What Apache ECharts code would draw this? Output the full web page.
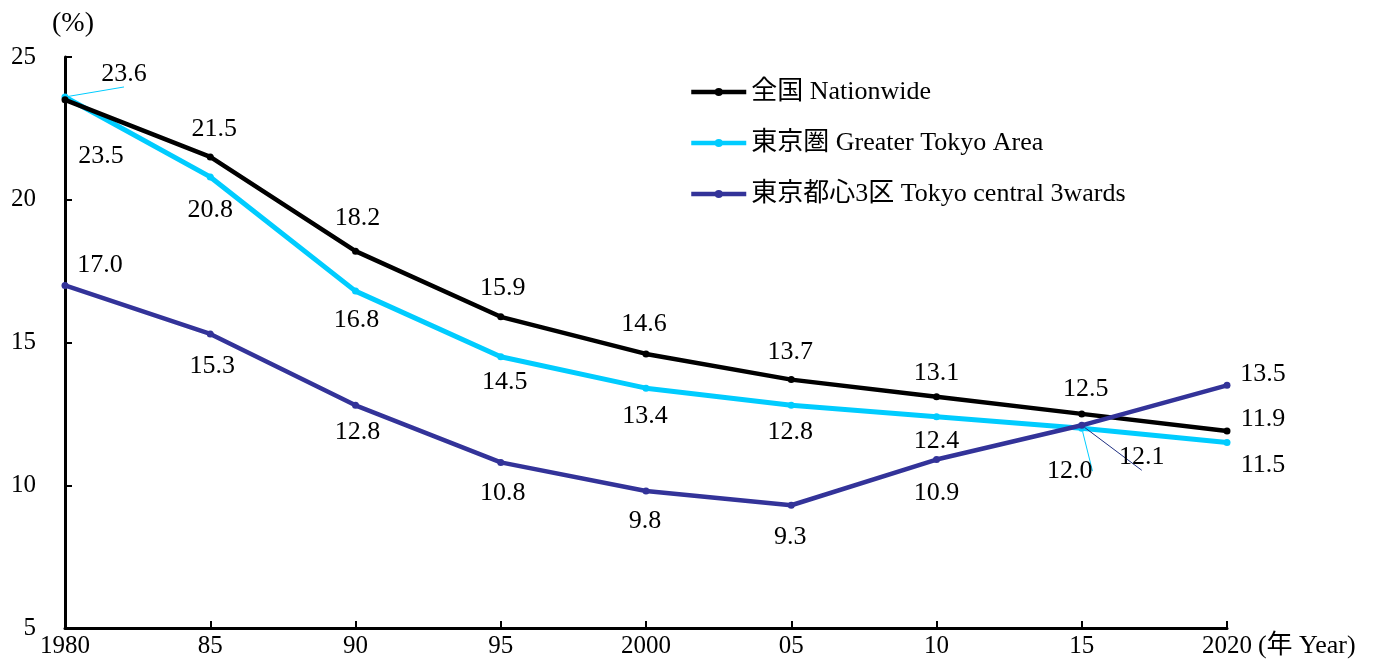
<!DOCTYPE html>
<html>
<head>
<meta charset="utf-8">
<script src="https://cdn.jsdelivr.net/npm/echarts@6/dist/echarts.min.js"></script>
<style>
html,body{margin:0;padding:0;background:#fff;}
#chart{width:1373px;height:663px;}
</style>
</head>
<body>
<div id="chart"></div>
<script>
const categories = ['1980','85','90','95','2000','05','10','15','2020'];
const nationwide = [23.5, 21.5, 18.2, 15.9, 14.6, 13.7, 13.1, 12.5, 11.9];
const greaterTokyo = [23.6, 20.8, 16.8, 14.5, 13.4, 12.8, 12.4, 12.0, 11.5];
const central3 = [17.0, 15.3, 12.8, 10.8, 9.8, 9.3, 10.9, 12.1, 13.5];
const seriesNames = ['全国 Nationwide', '東京圏 Greater Tokyo Area', '東京都心3区 Tokyo central 3wards'];
const yTicks = [5, 10, 15, 20, 25];

// label placement (offsets from each point), kept apart from data
const offN = [[36,56],[4,-28],[2,-33],[2,-29],[-2,-30],[-1,-27],[0,-24],[4,-25],[36,-12]];
const offG = [[59,-23],[0,33],[1,29],[4,25],[-1,28],[-1,27],[0,24],[-12,43],[36,23]];
const offC = [[35,-20],[2,32],[2,27],[2,31],[-1,30],[-1,32],[0,34],[60,32],[36,-11]];
const leaderG = [0, 7];
const leaderC = [7];

const FONT = '"Liberation Serif", "Noto Sans CJK JP", serif';

function build(values, offs, color, leaders) {
  return values.map((v, i) => {
    const item = {
      value: v,
      label: { show: true, position: 'inside', offset: offs[i], formatter: v.toFixed(1) }
    };
    if (leaders.indexOf(i) >= 0) {
      item.labelLine = { show: true, length2: 0, lineStyle: { color: color, width: 1 } };
    }
    return item;
  });
}

const colors = ['#000000', '#00CCFF', '#333399'];
const chart = echarts.init(document.getElementById('chart'));
const labelStyle = { color: '#000', fontFamily: FONT, fontSize: 26 };

chart.setOption({
  animation: false,
  textStyle: { fontFamily: FONT },
  grid: { left: 65, right: 146, top: 57, bottom: 35, containLabel: false },
  legend: {
    orient: 'vertical', left: 684, top: 74, itemGap: 25,
    itemWidth: 55, itemHeight: 10,
    lineStyle: { width: 4.5 },
    textStyle: { color: '#000', fontFamily: FONT, fontSize: 26 },
    data: seriesNames
  },
  xAxis: {
    type: 'category', boundaryGap: false,
    data: categories,
    axisLine: { lineStyle: { color: '#000', width: 3 } },
    axisTick: { inside: true, length: 7, lineStyle: { color: '#000', width: 2 } },
    axisLabel: { color: '#000', fontFamily: FONT, fontSize: 25, margin: 6 },
    name: '(年 Year)', nameLocation: 'end', nameGap: 21,
    nameTextStyle: { color: '#000', fontFamily: FONT, fontSize: 26, verticalAlign: 'top', align: 'left', padding: [5, 0, 0, 0] }
  },
  yAxis: {
    type: 'value', min: yTicks[0], max: yTicks[yTicks.length - 1], interval: 5,
    axisLine: { show: true, lineStyle: { color: '#000', width: 3 } },
    axisTick: { show: true, inside: true, length: 7, lineStyle: { color: '#000', width: 2 } },
    splitLine: { show: false },
    axisLabel: { color: '#000', fontFamily: FONT, fontSize: 25, margin: 29 },
    name: '(%)', nameLocation: 'end', nameGap: 19,
    nameTextStyle: { color: '#000', fontFamily: FONT, fontSize: 28, padding: [0, 0, 0, 16] }
  },
  series: [
    {
      name: seriesNames[0], type: 'line', data: build(nationwide, offN, colors[0], []),
      color: colors[0], symbol: 'circle', symbolSize: 7,
      lineStyle: { width: 4.5, color: colors[0] }, itemStyle: { color: colors[0] },
      label: labelStyle, z: 3
    },
    {
      name: seriesNames[1], type: 'line', data: build(greaterTokyo, offG, colors[1], leaderG),
      color: colors[1], symbol: 'circle', symbolSize: 7,
      lineStyle: { width: 5, color: colors[1] }, itemStyle: { color: colors[1] },
      label: labelStyle, z: 2
    },
    {
      name: seriesNames[2], type: 'line', data: build(central3, offC, '#1F2F80', leaderC),
      color: colors[2], symbol: 'circle', symbolSize: 7,
      lineStyle: { width: 4.5, color: colors[2] }, itemStyle: { color: colors[2] },
      label: labelStyle, z: 4
    }
  ]
});
</script>
</body>
</html>
